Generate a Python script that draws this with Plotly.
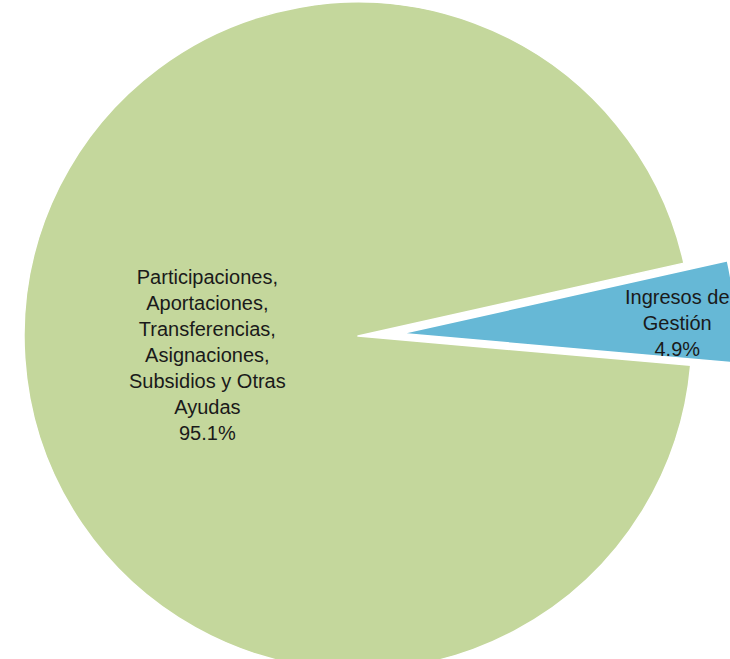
import math
import plotly.graph_objects as go

# ---- data ----
labels = ["Ingresos de<br>Gestión",
          "Participaciones,<br>Aportaciones,<br>Transferencias,<br>Asignaciones,<br>Subsidios y Otras<br>Ayudas"]
values = [4.9, 95.1]
colors = ["#66B8D6", "#C4D79C"]

# ---- layout constants (pixels) ----
W, H = 760, 700          # figure larger than the window; overflow is clipped
R = 334                  # pie radius
CX, CY = 358, 336        # centre of the main pie
PULL_PX = 44             # how far the small slice is pulled out
ROT = 77.4               # start angle of the first slice (clockwise from 12 o'clock)

total = sum(values)
mid_deg = ROT + values[0] / total * 360 / 2      # compass angle of small slice bisector
ang = math.radians(mid_deg)
BX = CX + PULL_PX * math.sin(ang)
BY = CY - PULL_PX * math.cos(ang)


def domain(cx, cy, r):
    return dict(x=[(cx - r) / W, (cx + r) / W],
                y=[1 - (cy + r) / H, 1 - (cy - r) / H])


def clamp(d):
    return {k: [max(0, v[0]), min(1, v[1])] for k, v in d.items()}


fig = go.Figure()

# main (large) slice
fig.add_trace(go.Pie(
    labels=labels, values=values, sort=False, direction="clockwise", rotation=ROT,
    marker=dict(colors=["rgba(0,0,0,0)", colors[1]],
                line=dict(color=["rgba(0,0,0,0)", "white"], width=[0, 1.5])),
    textinfo="none", hoverinfo="skip", showlegend=False,
    domain=clamp(domain(CX, CY, R)),
))

# pulled-out small slice
fig.add_trace(go.Pie(
    labels=labels, values=values, sort=False, direction="clockwise", rotation=ROT,
    marker=dict(colors=[colors[0], "rgba(0,0,0,0)"],
                line=dict(color=["white", "rgba(0,0,0,0)"], width=[1.5, 0])),
    textinfo="none", hoverinfo="skip", showlegend=False,
    domain=clamp(domain(BX, BY, R)),
))

# data labels
label_pos = [(677, 323), (207, 355)]
for lab, val, (px, py) in zip(labels, values, label_pos):
    fig.add_annotation(
        x=px / W, y=1 - py / H, xref="paper", yref="paper",
        text=f"{lab}<br>{val:.1f}%", showarrow=False,
        xanchor="center", yanchor="middle", align="center",
        font=dict(family="Liberation Sans, Arial, sans-serif", size=20, color="#1a1a1a"),
    )

fig.update_layout(
    width=W, height=H, autosize=False,
    margin=dict(l=0, r=0, t=0, b=0),
    paper_bgcolor="white", plot_bgcolor="white",
)

fig.write_html(
    "out.html",
    config={"displayModeBar": False},
    post_script="document.body.style.margin='0';document.body.style.overflow='hidden';"
                "document.documentElement.style.overflow='hidden';",
)
